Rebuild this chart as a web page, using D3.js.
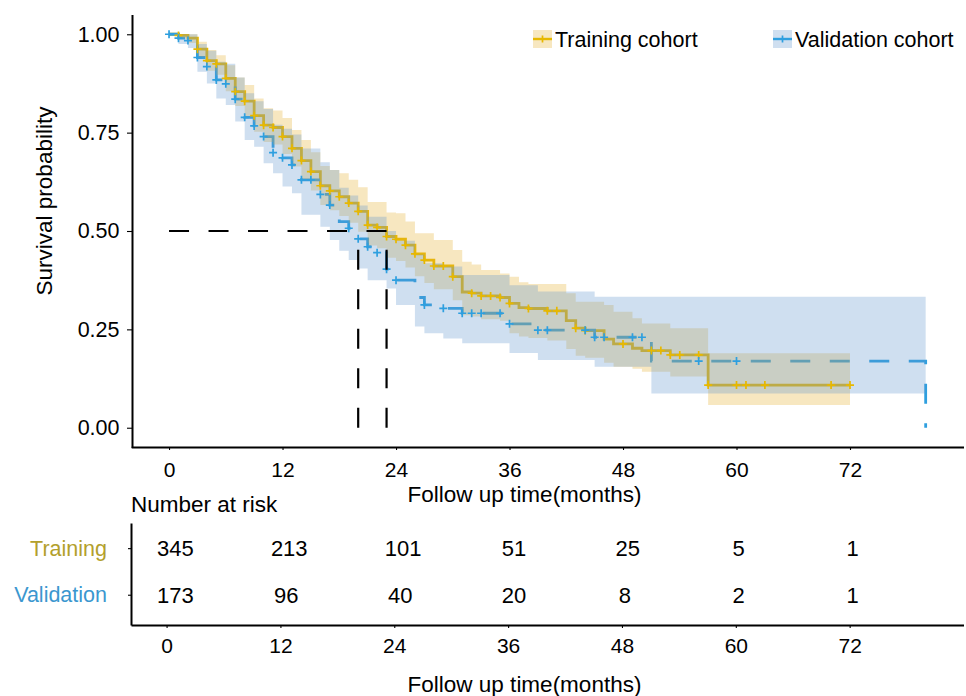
<!DOCTYPE html>
<html>
<head>
<meta charset="utf-8">
<script src="https://cdn.jsdelivr.net/npm/d3@7"></script>
<style>
  body { margin: 0; background: #fff; }
  svg text { font-family: "Liberation Sans", Arial, Helvetica, sans-serif; }
</style>
</head>
<body>
<svg id="chart" width="966" height="696"></svg>
<script>
// ---------------- DATA ----------------
const strata = ["Training", "Validation"];
const legendLabels = ["Training cohort", "Validation cohort"];

const trainTime  = [0, 1, 2, 3, 4, 5, 6, 7, 8, 9, 10, 11, 12, 13, 14, 15, 16, 17, 18, 19, 20, 21, 22, 23, 24, 25, 26, 27, 28, 30, 31, 32, 33, 35, 36, 37, 38, 40, 42, 43, 44, 46, 47, 49, 50, 53, 57, 72];
const trainSurv  = [1, .997, .990, .962, .933, .925, .888, .854, .830, .793, .769, .763, .740, .710, .679, .651, .615, .602, .587, .571, .550, .515, .509, .486, .479, .464, .442, .426, .411, .384, .345, .342, .335, .331, .316, .305, .303, .297, .272, .253, .247, .225, .213, .202, .196, .185, .1085, .1085];
const trainUpper = [1, 1, 1, .981, .960, .947, .921, .890, .871, .837, .812, .806, .787, .757, .731, .700, .665, .655, .647, .630, .611, .574, .574, .547, .545, .524, .494, .494, .477, .452, .422, .415, .401, .392, .384, .370, .365, .365, .342, .320, .320, .312, .295, .278, .265, .253, .189, .189];
const trainLower = [1, .990, .978, .943, .907, .897, .855, .818, .792, .752, .726, .720, .696, .664, .632, .603, .566, .553, .538, .521, .498, .463, .456, .432, .424, .407, .385, .368, .352, .324, .286, .283, .276, .272, .240, .232, .228, .222, .200, .183, .178, .165, .155, .150, .142, .130, .058, .058];
const trainCensor = [1, 3, 4, 5, 6, 7, 8, 9, 10, 11, 12, 13, 14, 15, 16, 17, 18, 19, 20, 21, 22, 23, 24, 25, 26, 27, 28, 29, 30, 32, 33, 34, 35, 36, 38, 40, 41, 43, 44, 48, 51, 52, 53, 54, 56, 57, 60, 61, 63, 70, 72];

const validTime  = [0, 1, 2, 3, 4, 5, 6, 7, 8, 9, 10, 11, 12, 13, 14, 16, 17, 18, 19, 20, 21, 22, 23, 24, 26, 27, 29, 31, 36, 39, 45, 51, 80];
const validSurv  = [1, .990, .984, .941, .918, .884, .874, .835, .789, .767, .740, .699, .686, .668, .630, .593, .566, .524, .507, .480, .460, .445, .403, .375, .331, .312, .3035, .291, .264, .248, .230, .1695, 0];
const validUpper = [1, 1, 1, .975, .958, .930, .925, .890, .850, .830, .810, .770, .760, .745, .710, .675, .655, .610, .590, .565, .536, .536, .500, .475, .440, .418, .410, .388, .362, .346, .333, .333, .333];
const validLower = [1, .975, .965, .905, .875, .837, .820, .778, .731, .714, .672, .647, .613, .596, .541, .511, .477, .450, .426, .405, .375, .375, .354, .312, .257, .240, .227, .215, .190, .172, .155, .087, .087];
const validCensor = [0, 1, 2, 3, 4, 5, 6, 7, 8, 9, 10, 11, 12, 13, 14, 15, 16, 17, 19, 20, 21, 22, 23, 24, 27, 29, 31, 32, 33, 35, 36, 39, 40, 44, 45, 46, 49, 50, 56, 60];

const medianTimes = [20, 23];   // validation, training

const xTicks = [0, 12, 24, 36, 48, 60, 72];
const yTicks = [0, 0.25, 0.5, 0.75, 1];
const riskTrain = [345, 213, 101, 51, 25, 5, 1];
const riskValid = [173, 96, 40, 20, 8, 2, 1];

const colors = ["#E7B800", "#2E9FDF"];
const ribbonColors = ["#E4AF2D", "#5F94CD"];
const labelColors = ["#B3A02C", "#3B97CF"];
const xTitle = "Follow up time(months)";
const yTitle = "Survival probability";

// ---------------- SETUP ----------------
const svg = d3.select("#chart");
const x = d3.scaleLinear().domain([-4, 84]).range([131.2, 963.5]);
const y = d3.scaleLinear().domain([-0.05, 1.05]).range([447.4, 14.6]);

function build(time, surv, upper, lower) {
  return time.map((t, i) => ({ t, s: surv[i], u: upper[i], l: lower[i] }));
}
const data = [
  build(trainTime, trainSurv, trainUpper, trainLower),
  build(validTime, validSurv, validUpper, validLower)
];
const censors = [trainCensor, validCensor];

function survAt(series, t) {
  let v = series[0].s;
  for (const d of series) if (d.t <= t) v = d.s;
  return v;
}

const lineGen = d3.line().x(d => x(d.t)).y(d => y(d.s)).curve(d3.curveStepAfter);
const areaGen = d3.area().x(d => x(d.t)).y0(d => y(d.l)).y1(d => y(d.u)).curve(d3.curveStepAfter);

// curves (drawn below ribbons)
data.forEach((ser, i) => {
  svg.append("path")
    .attr("d", lineGen(ser))
    .attr("fill", "none")
    .attr("stroke", colors[i])
    .attr("stroke-width", 2.8)
    .attr("stroke-dasharray", i === 1 ? "20,19.5" : null);
});

// ribbons
data.forEach((ser, i) => {
  svg.append("path")
    .attr("d", areaGen(ser))
    .attr("fill", ribbonColors[i])
    .attr("fill-opacity", 0.3)
    .attr("stroke", "none");
});

// censor marks
const crossPath = "M-4,0H4M0,-4V4";
censors.forEach((cs, i) => {
  svg.append("g").selectAll("path")
    .data(cs)
    .join("path")
    .attr("transform", t => `translate(${x(t)},${y(survAt(data[i], t))})`)
    .attr("d", crossPath)
    .attr("stroke", colors[i])
    .attr("stroke-width", 1.7)
    .attr("fill", "none");
});

// median lines
const gMed = svg.append("g").attr("stroke", "#000").attr("stroke-width", 2.2)
  .attr("stroke-dasharray", "20,19.5").attr("fill", "none");
gMed.append("path").attr("d", `M${x(0)},${y(0.5)}H${x(d3.max(medianTimes))}`);
medianTimes.forEach(m => {
  gMed.append("path").attr("d", `M${x(m)},${y(0)}V${y(0.5)}`);
});

// axes
function styleAxis(g, fs) {
  g.select(".domain").attr("stroke", "#000").attr("stroke-width", 2);
  g.selectAll(".tick line").attr("stroke", "#000").attr("stroke-width", 1.1);
  g.selectAll(".tick text").attr("font-size", fs).style("fill", "#000")
    .style("font-family", '"Liberation Sans", Arial, sans-serif');
}

const gY = svg.append("g").attr("transform", "translate(132,0)")
  .call(d3.axisLeft(y).tickValues(yTicks).tickFormat(d3.format(".2f"))
        .tickSize(5).tickPadding(7.5).tickSizeOuter(0));
styleAxis(gY, 21.5);

const gX = svg.append("g").attr("transform", "translate(0,447)")
  .call(d3.axisBottom(x).tickValues(xTicks).tickSize(3).tickPadding(12).tickSizeOuter(0));
styleAxis(gX, 21);

svg.append("text")
  .attr("transform", "translate(52,201) rotate(-90)")
  .attr("text-anchor", "middle")
  .attr("font-size", 22.5)
  .style("fill", "#000")
  .text(yTitle);

svg.append("text")
  .attr("x", 524.5).attr("y", 501.5)
  .attr("text-anchor", "middle")
  .attr("font-size", 22.5)
  .style("fill", "#000")
  .text(xTitle);

// legend
const legendX = [533, 773];
legendLabels.forEach((lab, i) => {
  const g = svg.append("g").attr("transform", `translate(${legendX[i]},30)`);
  g.append("rect").attr("width", 19).attr("height", 18)
    .attr("fill", ribbonColors[i]).attr("fill-opacity", 0.3);
  g.append("line").attr("x1", 0).attr("x2", 19).attr("y1", 9).attr("y2", 9)
    .attr("stroke", colors[i]).attr("stroke-width", 2.4);
  g.append("path").attr("transform", "translate(9.5,9)").attr("d", "M0,-3.5V3.5")
    .attr("stroke", colors[i]).attr("stroke-width", 1.7);
  g.append("text").attr("x", 22).attr("y", 16.5)
    .attr("font-size", 21.5).style("fill", "#000").text(lab);
});

// ---------------- RISK TABLE ----------------
svg.append("text")
  .attr("x", 131).attr("y", 511.5)
  .attr("font-size", 22.5)
  .style("fill", "#000")
  .text("Number at risk");

const xT = d3.scaleLinear().domain([-3.75, 84]).range([131, 963.5]);
const rowY = d3.scaleLinear().domain([0.46, 2.65]).range([523, 625]);

const gTY = svg.append("g").attr("transform", "translate(131,0)")
  .call(d3.axisLeft(rowY).tickValues([1, 2]).tickFormat(i => strata[i - 1])
        .tickSize(3).tickPadding(21).tickSizeOuter(0));
styleAxis(gTY, 21.5);
gTY.selectAll(".tick text").style("fill", d => labelColors[d - 1]);

const gTX = svg.append("g").attr("transform", "translate(0,625)")
  .call(d3.axisBottom(xT).tickValues(xTicks).tickSize(3).tickPadding(10.5).tickSizeOuter(0));
styleAxis(gTX, 21);

const riskRows = [riskTrain, riskValid];
riskRows.forEach((row, r) => {
  const g = svg.append("g");
  row.forEach((n, k) => {
    const t = g.append("text")
      .attr("y", rowY(r + 1))
      .attr("dy", "0.36em")
      .attr("font-size", 22)
      .attr("text-anchor", "start")
      .style("fill", "#000")
      .text(n);
    const w = t.node().getComputedTextLength();
    t.attr("x", xT(xTicks[k]) - 0.26 * w);
  });
});

svg.append("text")
  .attr("x", 524.5).attr("y", 691.5)
  .attr("text-anchor", "middle")
  .attr("font-size", 22.5)
  .style("fill", "#000")
  .text(xTitle);
</script>
</body>
</html>
